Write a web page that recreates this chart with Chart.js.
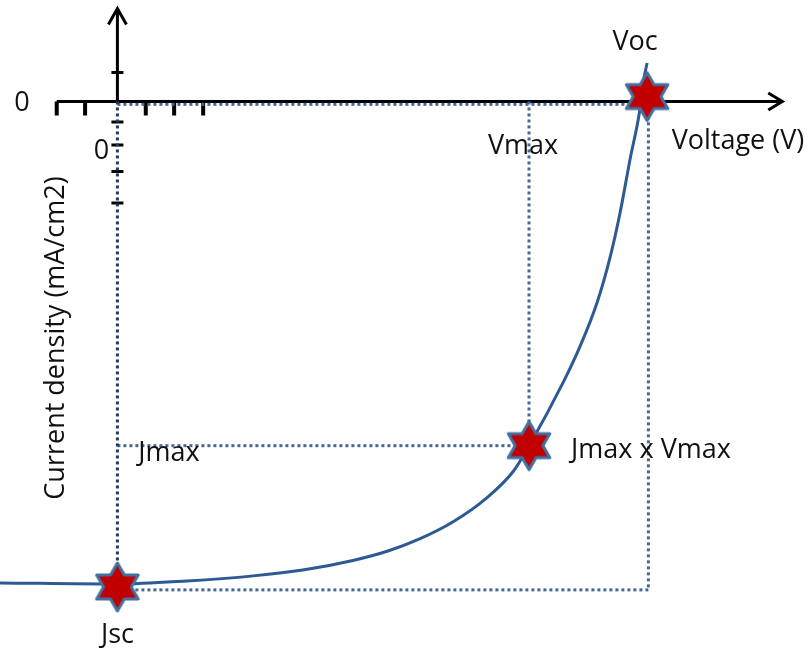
<!DOCTYPE html>
<html>
<head>
<meta charset="utf-8">
<script src="https://cdn.jsdelivr.net/npm/chart.js@4.4.1/dist/chart.umd.min.js"></script>
<style>
    html, body { margin: 0; padding: 0; background: #fff; }
    #wrap { width: 810px; height: 651px; }
</style>
</head>
<body>
<div id="wrap"><canvas id="jvChart"></canvas></div>
<script>
// J-V curve (voltage in V, current density in mA/cm2)
const curveV = [-0.178, 0, 0.106, 0.206, 0.281, 0.357, 0.409, 0.459, 0.509, 0.560, 0.600, 0.624, 0.676, 0.701, 0.727, 0.747, 0.762, 0.777, 0.792, 0.797, 0.803];
const curveJ = [-19.93, -19.98, -19.85, -19.64, -19.40, -19.00, -18.62, -18.10, -17.40, -16.41, -15.32, -14.26, -11.62, -10.16, -8.34, -6.44, -4.62, -2.42, -0.35, 0.76, 1.59];

// key points
const Voc = 0.803, VocJ = 0.2;
const Vmax = 0.624, Jmax = -14.25;
const Jsc = -20.1;
const boxV = 0.805, boxJ = -20.22;

// axis ticks (no numbers, just marks)
const xTicks = [-0.092, -0.049, 0.043, 0.086, 0.13];
const yTicks = [1.2, -0.85, -1.8, -2.9, -4.2];
const xAxisStart = -0.092, xAxisEnd = 1.008;
const yAxisEnd = 3.85;

const FONT = '27px "Open Sans"';
const CURVE_COLOR = '#2E5A94';
const GUIDE_COLOR = '#44689B';

// six-pointed star marker
function makeStar(R) {
    const c = document.createElement('canvas');
    const lw = 3;
    c.width = Math.ceil(2 * R * 0.866 + lw * 2);
    c.height = Math.ceil(2 * R + lw * 2);
    const g = c.getContext('2d');
    const cx = c.width / 2, cy = c.height / 2;
    const r = R / Math.sqrt(3);
    g.beginPath();
    for (let i = 0; i < 12; i++) {
        const a = -Math.PI / 2 + i * Math.PI / 6;
        const rad = i % 2 === 0 ? R : r;
        const px = cx + rad * Math.cos(a), py = cy + rad * Math.sin(a);
        if (i === 0) g.moveTo(px, py); else g.lineTo(px, py);
    }
    g.closePath();
    g.fillStyle = '#C00000';
    g.fill();
    g.lineWidth = lw;
    g.lineJoin = 'round';
    g.strokeStyle = '#44709F';
    g.stroke();
    return c;
}
const star = makeStar(24);

function seg(a, b, color) {
    return {
        data: [a, b],
        showLine: true,
        borderColor: color || GUIDE_COLOR,
        borderWidth: 3,
        borderDash: [3, 3],
        pointRadius: 0,
        clip: false
    };
}

// black axes, arrows and tick marks
const axesPlugin = {
    id: 'axes',
    beforeDatasetsDraw(chart) {
        const ctx = chart.ctx;
        const xs = chart.scales.x, ys = chart.scales.y;
        const x0 = xs.getPixelForValue(0), y0 = ys.getPixelForValue(0);
        const xa = xs.getPixelForValue(xAxisStart), xb = xs.getPixelForValue(xAxisEnd);
        const yb = ys.getPixelForValue(yAxisEnd);
        ctx.save();
        ctx.strokeStyle = '#000';
        ctx.lineWidth = 3;
        ctx.lineCap = 'butt';
        ctx.beginPath();
        ctx.moveTo(xa, y0); ctx.lineTo(xb - 2, y0);
        ctx.moveTo(x0, y0); ctx.lineTo(x0, yb + 2);
        ctx.stroke();
        // arrow heads
        ctx.lineJoin = 'miter';
        ctx.beginPath();
        ctx.moveTo(xb - 14, y0 - 8.5); ctx.lineTo(xb, y0); ctx.lineTo(xb - 14, y0 + 8.5);
        ctx.moveTo(x0 - 9, yb + 16); ctx.lineTo(x0, yb); ctx.lineTo(x0 + 9, yb + 16);
        ctx.stroke();
        // ticks
        ctx.lineWidth = 4;
        ctx.beginPath();
        xTicks.forEach(v => {
            const p = xs.getPixelForValue(v);
            ctx.moveTo(p, y0); ctx.lineTo(p, y0 + 14);
        });
        ctx.stroke();
        ctx.lineWidth = 3;
        ctx.beginPath();
        yTicks.forEach(v => {
            const p = ys.getPixelForValue(v);
            ctx.moveTo(x0 - 6, p); ctx.lineTo(x0 + 6, p);
        });
        ctx.stroke();
        ctx.restore();
    },
    afterDatasetsDraw(chart) {
        const ctx = chart.ctx;
        const xs = chart.scales.x, ys = chart.scales.y;
        const X = v => xs.getPixelForValue(v), Y = v => ys.getPixelForValue(v);
        ctx.save();
        ctx.font = FONT;
        ctx.fillStyle = '#111';
        ctx.textAlign = 'center';
        ctx.textBaseline = 'middle';
        ctx.fillText('0', 22, Y(0) + 2);
        ctx.fillText('0', X(0) - 16, 151);
        ctx.fillText('Voc', X(Voc) - 12, 42);
        ctx.fillText('Voltage (V)', 738, 141);
        ctx.fillText('Vmax', X(Vmax) - 6, 146);
        ctx.fillText('Jmax', 169, Y(Jmax) + 8);
        ctx.fillText('Jmax x Vmax', 651, Y(Jmax) + 5);
        ctx.fillText('Jsc', X(0), 635);
        ctx.translate(56, 338);
        ctx.rotate(-Math.PI / 2);
        ctx.fillText('Current density (mA/cm2)', 0, 0);
        ctx.restore();
    }
};

const ctx = document.getElementById('jvChart').getContext('2d');
new Chart(ctx, {
    type: 'scatter',
    data: {
        datasets: [
            {
                data: [
                    { x: 0, y: Jsc },
                    { x: Vmax, y: Jmax },
                    { x: Voc, y: VocJ }
                ],
                pointStyle: star,
                pointRadius: 24,
                clip: false
            },
            {
                data: curveV.map((v, i) => ({ x: v, y: curveJ[i] })),
                showLine: true,
                borderColor: CURVE_COLOR,
                borderWidth: 3,
                cubicInterpolationMode: 'monotone',
                pointRadius: 0,
                clip: false
            },
            seg({ x: 0, y: 0 }, { x: 0, y: boxJ }, '#243A58'),
            seg({ x: 0, y: -0.12 }, { x: boxV, y: -0.12 }),
            seg({ x: boxV, y: -0.12 }, { x: boxV, y: boxJ }),
            seg({ x: 0, y: boxJ }, { x: boxV, y: boxJ }),
            seg({ x: Vmax, y: 0 }, { x: Vmax, y: Jmax }),
            seg({ x: 0, y: Jmax }, { x: Vmax, y: Jmax })
        ]
    },
    options: {
        responsive: true,
        maintainAspectRatio: false,
        animation: false,
        layout: { padding: 0, autoPadding: false },
        scales: {
            x: { type: 'linear', display: false, min: -0.178, max: 1.05 },
            y: { type: 'linear', display: false, min: -22.75, max: 4.2 }
        },
        plugins: {
            legend: { display: false },
            tooltip: { enabled: false }
        }
    },
    plugins: [axesPlugin]
});
</script>
</body>
</html>
